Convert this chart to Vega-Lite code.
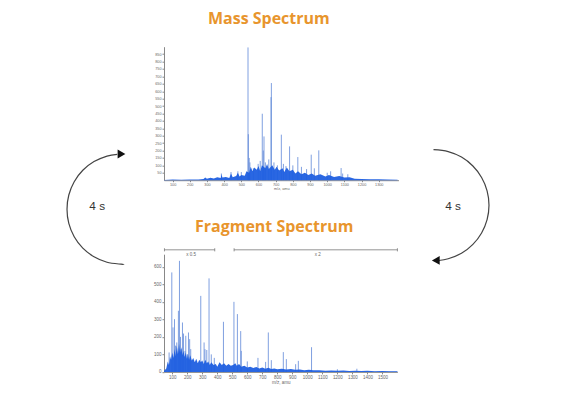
{
  "$schema": "https://vega.github.io/schema/vega-lite/v6.json",
  "padding": {"left": 0, "top": 10.7, "right": 0, "bottom": 0},
  "background": "white",
  "spacing": 0,
  "config": {"view": {"stroke": null, "fill": "white"}, "font": "Liberation Sans", "axis": {"labelOverlap": false, "labelBound": false}},
  "datasets": {
    "arcL": [
      {"i": 0, "x": 117.2, "y": 154.6}, {"i": 1, "x": 107.0, "y": 156.4}, {"i": 2, "x": 94.0, "y": 161.9},
      {"i": 3, "x": 82.8, "y": 170.6}, {"i": 4, "x": 74.2, "y": 182.0}, {"i": 5, "x": 68.8, "y": 195.3},
      {"i": 6, "x": 67.0, "y": 209.5}, {"i": 7, "x": 68.8, "y": 223.7}, {"i": 8, "x": 74.2, "y": 237.0},
      {"i": 9, "x": 82.8, "y": 248.4}, {"i": 10, "x": 94.0, "y": 257.1}, {"i": 11, "x": 107.0, "y": 262.6},
      {"i": 12, "x": 121.0, "y": 264.5}, {"i": 13, "x": 123.8, "y": 264.4}
    ],
    "headL": [{"x": 121.5, "y": 154.3}],
    "textL": [{"x": 97.2, "y": 206.5, "t": "4 s"}],
    "arcR": [
      {"i": 0, "x": 431.5, "y": 150.0}, {"i": 1, "x": 446.2, "y": 151.9}, {"i": 2, "x": 459.5, "y": 157.4},
      {"i": 3, "x": 470.9, "y": 166.3}, {"i": 4, "x": 479.6, "y": 177.75}, {"i": 5, "x": 485.1, "y": 191.1},
      {"i": 6, "x": 487.0, "y": 205.5}, {"i": 7, "x": 485.1, "y": 219.9}, {"i": 8, "x": 479.6, "y": 233.25},
      {"i": 9, "x": 470.9, "y": 244.7}, {"i": 10, "x": 459.5, "y": 253.6}, {"i": 11, "x": 446.2, "y": 259.1},
      {"i": 12, "x": 436.8, "y": 260.8}
    ],
    "headR": [{"x": 433.8, "y": 260.7}],
    "textR": [{"x": 451.0, "y": 206.5, "t": "4 s"}],
    "topNoise": [
      {"mz": 50, "h": 2}, {"mz": 100, "h": 4}, {"mz": 150, "h": 3}, {"mz": 200, "h": 5}, {"mz": 250, "h": 4},
      {"mz": 280, "h": 8}, {"mz": 290, "h": 18}, {"mz": 300, "h": 10}, {"mz": 320, "h": 16}, {"mz": 340, "h": 12},
      {"mz": 360, "h": 20}, {"mz": 380, "h": 14}, {"mz": 385, "h": 38}, {"mz": 390, "h": 18}, {"mz": 410, "h": 22},
      {"mz": 430, "h": 15}, {"mz": 440, "h": 45}, {"mz": 450, "h": 20}, {"mz": 470, "h": 28}, {"mz": 480, "h": 50},
      {"mz": 490, "h": 25}, {"mz": 500, "h": 35}, {"mz": 520, "h": 30}, {"mz": 530, "h": 60}, {"mz": 545, "h": 50},
      {"mz": 555, "h": 90}, {"mz": 565, "h": 60}, {"mz": 575, "h": 85}, {"mz": 590, "h": 70}, {"mz": 600, "h": 95},
      {"mz": 610, "h": 60}, {"mz": 620, "h": 100}, {"mz": 640, "h": 80}, {"mz": 650, "h": 110}, {"mz": 660, "h": 75},
      {"mz": 680, "h": 100}, {"mz": 695, "h": 70}, {"mz": 705, "h": 90}, {"mz": 720, "h": 65}, {"mz": 740, "h": 80},
      {"mz": 750, "h": 55}, {"mz": 765, "h": 85}, {"mz": 780, "h": 60}, {"mz": 800, "h": 70}, {"mz": 815, "h": 45},
      {"mz": 830, "h": 60}, {"mz": 850, "h": 40}, {"mz": 870, "h": 50}, {"mz": 890, "h": 35}, {"mz": 910, "h": 45},
      {"mz": 930, "h": 30}, {"mz": 960, "h": 40}, {"mz": 990, "h": 25}, {"mz": 1010, "h": 35}, {"mz": 1040, "h": 22},
      {"mz": 1070, "h": 28}, {"mz": 1100, "h": 18}, {"mz": 1130, "h": 20}, {"mz": 1160, "h": 10}, {"mz": 1200, "h": 8},
      {"mz": 1250, "h": 6}, {"mz": 1300, "h": 7}, {"mz": 1350, "h": 5}, {"mz": 1410, "h": 3}
    ],
    "topPeaks": [
      {"mz": 539, "h": 895}, {"mz": 541, "h": 310}, {"mz": 546, "h": 150}, {"mz": 550, "h": 120}, {"mz": 570, "h": 80},
      {"mz": 598, "h": 110}, {"mz": 610, "h": 130}, {"mz": 622, "h": 448}, {"mz": 628, "h": 200}, {"mz": 632, "h": 295},
      {"mz": 640, "h": 120}, {"mz": 660, "h": 140}, {"mz": 673, "h": 560}, {"mz": 675, "h": 655}, {"mz": 690, "h": 120},
      {"mz": 710, "h": 100}, {"mz": 733, "h": 307}, {"mz": 745, "h": 110}, {"mz": 760, "h": 95}, {"mz": 781, "h": 228},
      {"mz": 800, "h": 100}, {"mz": 829, "h": 156}, {"mz": 850, "h": 90}, {"mz": 880, "h": 75}, {"mz": 907, "h": 172},
      {"mz": 925, "h": 80}, {"mz": 951, "h": 201}, {"mz": 1000, "h": 50}, {"mz": 1020, "h": 60}, {"mz": 1081, "h": 82},
      {"mz": 1090, "h": 45}, {"mz": 1120, "h": 40}, {"mz": 384, "h": 45}, {"mz": 440, "h": 55}, {"mz": 480, "h": 60},
      {"mz": 500, "h": 55}
    ],
    "botNoise": [
      {"mz": 45, "h": 5}, {"mz": 60, "h": 20}, {"mz": 70, "h": 60}, {"mz": 78, "h": 40}, {"mz": 85, "h": 90},
      {"mz": 92, "h": 70}, {"mz": 100, "h": 110}, {"mz": 108, "h": 80}, {"mz": 115, "h": 130}, {"mz": 122, "h": 90},
      {"mz": 130, "h": 150}, {"mz": 138, "h": 100}, {"mz": 145, "h": 160}, {"mz": 152, "h": 110}, {"mz": 160, "h": 140},
      {"mz": 168, "h": 95}, {"mz": 175, "h": 120}, {"mz": 182, "h": 85}, {"mz": 190, "h": 110}, {"mz": 198, "h": 75},
      {"mz": 205, "h": 100}, {"mz": 212, "h": 70}, {"mz": 220, "h": 95}, {"mz": 230, "h": 65}, {"mz": 240, "h": 80},
      {"mz": 250, "h": 55}, {"mz": 260, "h": 75}, {"mz": 270, "h": 50}, {"mz": 280, "h": 70}, {"mz": 290, "h": 55},
      {"mz": 300, "h": 65}, {"mz": 310, "h": 45}, {"mz": 320, "h": 70}, {"mz": 330, "h": 50}, {"mz": 340, "h": 60},
      {"mz": 350, "h": 40}, {"mz": 360, "h": 55}, {"mz": 375, "h": 40}, {"mz": 390, "h": 45}, {"mz": 400, "h": 30},
      {"mz": 415, "h": 55}, {"mz": 430, "h": 40}, {"mz": 445, "h": 50}, {"mz": 460, "h": 35}, {"mz": 475, "h": 45},
      {"mz": 490, "h": 35}, {"mz": 505, "h": 40}, {"mz": 520, "h": 50}, {"mz": 530, "h": 35}, {"mz": 545, "h": 45},
      {"mz": 560, "h": 30}, {"mz": 580, "h": 35}, {"mz": 600, "h": 25}, {"mz": 620, "h": 30}, {"mz": 640, "h": 22},
      {"mz": 660, "h": 28}, {"mz": 680, "h": 20}, {"mz": 700, "h": 25}, {"mz": 720, "h": 18}, {"mz": 740, "h": 24},
      {"mz": 760, "h": 16}, {"mz": 780, "h": 20}, {"mz": 800, "h": 15}, {"mz": 830, "h": 18}, {"mz": 860, "h": 14},
      {"mz": 890, "h": 16}, {"mz": 920, "h": 12}, {"mz": 950, "h": 14}, {"mz": 980, "h": 10}, {"mz": 1010, "h": 12},
      {"mz": 1040, "h": 9}, {"mz": 1080, "h": 10}, {"mz": 1120, "h": 7}, {"mz": 1160, "h": 8}, {"mz": 1200, "h": 6},
      {"mz": 1240, "h": 8}, {"mz": 1280, "h": 5}, {"mz": 1320, "h": 7}, {"mz": 1360, "h": 5}, {"mz": 1400, "h": 6},
      {"mz": 1450, "h": 4}, {"mz": 1500, "h": 5}, {"mz": 1550, "h": 4}, {"mz": 1600, "h": 3}
    ],
    "botPeaks": [
      {"mz": 79, "h": 111}, {"mz": 97, "h": 568}, {"mz": 105, "h": 254}, {"mz": 115, "h": 301}, {"mz": 122, "h": 150},
      {"mz": 130, "h": 168}, {"mz": 141, "h": 349}, {"mz": 148, "h": 634}, {"mz": 155, "h": 200}, {"mz": 160, "h": 130},
      {"mz": 168, "h": 282}, {"mz": 175, "h": 219}, {"mz": 185, "h": 120}, {"mz": 190, "h": 206}, {"mz": 201, "h": 101},
      {"mz": 208, "h": 225}, {"mz": 216, "h": 187}, {"mz": 223, "h": 130}, {"mz": 290, "h": 434}, {"mz": 312, "h": 168},
      {"mz": 318, "h": 130}, {"mz": 330, "h": 125}, {"mz": 345, "h": 534}, {"mz": 360, "h": 100}, {"mz": 380, "h": 80},
      {"mz": 441, "h": 286}, {"mz": 511, "h": 400}, {"mz": 534, "h": 330}, {"mz": 556, "h": 233}, {"mz": 560, "h": 120},
      {"mz": 600, "h": 60}, {"mz": 671, "h": 80}, {"mz": 722, "h": 57}, {"mz": 740, "h": 225}, {"mz": 760, "h": 67},
      {"mz": 840, "h": 113}, {"mz": 860, "h": 73}, {"mz": 922, "h": 44}, {"mz": 940, "h": 63}, {"mz": 1028, "h": 141},
      {"mz": 1200, "h": 15}, {"mz": 1330, "h": 18}
    ],
    "brackets": [
      {"from": 48, "to": 383, "mid": 226, "label": "x 0.5"},
      {"from": 512, "to": 1600, "mid": 1070, "label": "x 2"}
    ],
    "bracketEnds": [{"mz": 48}, {"mz": 383}, {"mz": 512}, {"mz": 1600}]
  },
  "hconcat": [
    {
      "width": 152.8,
      "height": 346,
      "layer": [
        {
          "data": {"name": "arcL"},
          "mark": {"type": "line", "interpolate": "cardinal", "color": "#444444", "strokeWidth": 1.2},
          "encoding": {
            "x": {"field": "x", "type": "quantitative", "scale": {"domain": [0, 152.8], "nice": false, "zero": false}, "axis": null},
            "y": {"field": "y", "type": "quantitative", "scale": {"domain": [393, 47], "nice": false, "zero": false}, "axis": null},
            "order": {"field": "i"}
          }
        },
        {
          "data": {"name": "headL"},
          "mark": {"type": "point", "shape": "triangle-right", "filled": true, "color": "#111111", "size": 80, "opacity": 1},
          "encoding": {
            "x": {"field": "x", "type": "quantitative"},
            "y": {"field": "y", "type": "quantitative"}
          }
        },
        {
          "data": {"name": "textL"},
          "mark": {"type": "text", "fontSize": 11.8, "color": "#333333", "align": "center", "baseline": "middle", "font": "Liberation Sans"},
          "encoding": {
            "x": {"field": "x", "type": "quantitative"},
            "y": {"field": "y", "type": "quantitative"},
            "text": {"field": "t"}
          }
        }
      ]
    },
    {
      "spacing": 27.5,
      "vconcat": [
        {
          "width": 234.5,
          "height": 133.5,
          "title": {"text": "Mass Spectrum", "font": "Open Sans", "fontSize": 16, "fontWeight": "bold", "color": "#E8952D", "offset": 6.5, "baseline": "alphabetic", "frame": "group", "anchor": "middle", "dx": -12.4},
          "layer": [
            {
              "data": {"name": "topPeaks"},
              "mark": {"type": "rule", "color": "#6088d8", "strokeWidth": 0.8},
              "encoding": {
                "x": {"field": "mz", "type": "quantitative", "scale": {"domain": [50, 1415], "nice": false, "zero": false},
                  "axis": {"values": [100, 200, 300, 400, 500, 600, 700, 800, 900, 1000, 1100, 1200, 1300], "tickCount": 100, "format": "d", "title": "m/z, amu", "grid": false,
                    "labelOverlap": false, "labelBound": false, "labelFlush": false,
                    "labelFontSize": 3.8, "titleFontSize": 3.8, "tickSize": 1.5, "labelPadding": 0.5, "titlePadding": 0.5,
                    "domainColor": "#888888", "tickColor": "#888888", "labelColor": "#666666", "titleColor": "#666666", "titleFontWeight": "normal"}},
                "y": {"field": "h", "type": "quantitative", "scale": {"domain": [0, 900], "nice": false},
                  "axis": {"values": [50, 100, 150, 200, 250, 300, 350, 400, 450, 500, 550, 600, 650, 700, 750, 800, 850], "tickCount": 100, "format": "d", "title": null, "grid": false,
                    "labelOverlap": false, "labelBound": false, "labelFlush": false,
                    "labelFontSize": 3.8, "tickSize": 2, "labelPadding": 1, "domainColor": "#888888", "tickColor": "#888888", "labelColor": "#666666"}},
                "y2": {"datum": 0}
              }
            },
            {
              "data": {"name": "topNoise"},
              "mark": {"type": "area", "color": "#1f5fe0", "opacity": 0.95, "interpolate": "linear"},
              "encoding": {
                "x": {"field": "mz", "type": "quantitative"},
                "y": {"field": "h", "type": "quantitative"}
              }
            }
          ]
        },
        {
          "width": 233.4,
          "height": 117.7,
          "title": {"text": "Fragment Spectrum", "font": "Open Sans", "fontSize": 16, "fontWeight": "bold", "color": "#E8952D", "offset": 0, "baseline": "alphabetic", "frame": "group", "anchor": "middle", "dx": -6.5},
          "layer": [
            {
              "data": {"name": "botPeaks"},
              "mark": {"type": "rule", "color": "#6088d8", "strokeWidth": 0.8},
              "encoding": {
                "x": {"field": "mz", "type": "quantitative", "scale": {"domain": [45, 1600], "nice": false, "zero": false},
                  "axis": {"values": [100, 200, 300, 400, 500, 600, 700, 800, 900, 1000, 1100, 1200, 1300, 1400, 1500], "tickCount": 100, "format": "d", "title": "m/z, amu", "grid": false,
                    "labelOverlap": false, "labelBound": false, "labelFlush": false,
                    "labelFontSize": 4.5, "titleFontSize": 4.5, "tickSize": 2, "labelPadding": 0.5, "titlePadding": 1,
                    "domainColor": "#888888", "tickColor": "#888888", "labelColor": "#666666", "titleColor": "#666666", "titleFontWeight": "normal"}},
                "y": {"field": "h", "type": "quantitative", "scale": {"domain": [0, 672], "nice": false},
                  "axis": {"values": [0, 100, 200, 300, 400, 500, 600], "tickCount": 100, "format": "d", "title": null, "grid": false,
                    "labelOverlap": false, "labelBound": false, "labelFlush": false,
                    "labelFontSize": 4.5, "tickSize": 2, "labelPadding": 1, "domainColor": "#888888", "tickColor": "#888888", "labelColor": "#666666"}},
                "y2": {"datum": 0}
              }
            },
            {
              "data": {"name": "botNoise"},
              "mark": {"type": "area", "color": "#1f5fe0", "opacity": 0.95, "interpolate": "linear"},
              "encoding": {
                "x": {"field": "mz", "type": "quantitative"},
                "y": {"field": "h", "type": "quantitative"}
              }
            },
            {
              "data": {"name": "brackets"},
              "mark": {"type": "rule", "color": "#777777", "strokeWidth": 0.8},
              "encoding": {
                "x": {"field": "from", "type": "quantitative"},
                "x2": {"field": "to"},
                "y": {"datum": 697}
              }
            },
            {
              "data": {"name": "bracketEnds"},
              "mark": {"type": "rule", "color": "#777777", "strokeWidth": 0.8},
              "encoding": {
                "x": {"field": "mz", "type": "quantitative"},
                "y": {"datum": 688},
                "y2": {"datum": 706}
              }
            },
            {
              "data": {"name": "brackets"},
              "mark": {"type": "text", "fontSize": 4.5, "color": "#666666", "baseline": "middle", "align": "center"},
              "encoding": {
                "x": {"field": "mid", "type": "quantitative"},
                "y": {"datum": 669},
                "text": {"field": "label"}
              }
            }
          ]
        }
      ]
    },
    {
      "width": 169,
      "height": 346,
      "layer": [
        {
          "data": {"name": "arcR"},
          "mark": {"type": "line", "interpolate": "cardinal", "color": "#444444", "strokeWidth": 1.2},
          "encoding": {
            "x": {"field": "x", "type": "quantitative", "scale": {"domain": [397, 566], "nice": false, "zero": false}, "axis": null},
            "y": {"field": "y", "type": "quantitative", "scale": {"domain": [393, 47], "nice": false, "zero": false}, "axis": null},
            "order": {"field": "i"}
          }
        },
        {
          "data": {"name": "headR"},
          "mark": {"type": "point", "shape": "triangle-left", "filled": true, "color": "#111111", "size": 80, "opacity": 1},
          "encoding": {
            "x": {"field": "x", "type": "quantitative"},
            "y": {"field": "y", "type": "quantitative"}
          }
        },
        {
          "data": {"name": "textR"},
          "mark": {"type": "text", "fontSize": 11.8, "color": "#333333", "align": "center", "baseline": "middle", "font": "Liberation Sans"},
          "encoding": {
            "x": {"field": "x", "type": "quantitative"},
            "y": {"field": "y", "type": "quantitative"},
            "text": {"field": "t"}
          }
        }
      ]
    }
  ]
}
